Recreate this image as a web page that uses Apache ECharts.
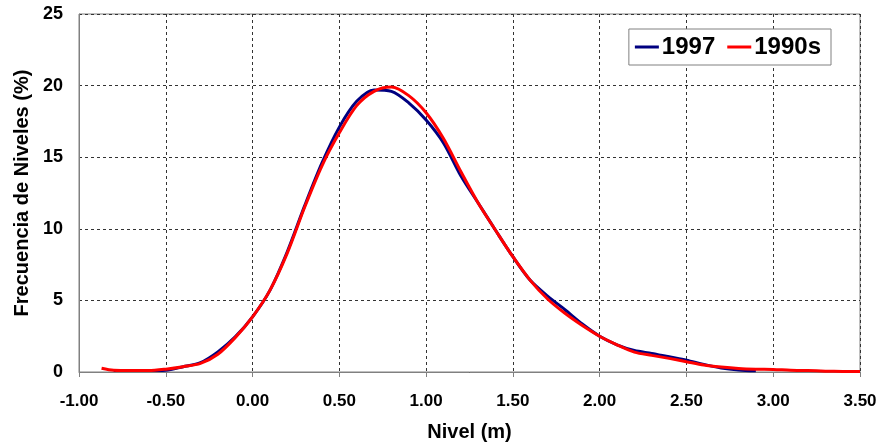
<!DOCTYPE html>
<html>
<head>
<meta charset="utf-8">
<script src="https://cdn.jsdelivr.net/npm/echarts@6/dist/echarts.min.js"></script>
<style>
  html, body { margin: 0; padding: 0; background: #fff; }
  #main { width: 882px; height: 447px; }
</style>
</head>
<body>
<div id="main"></div>
<script>
// niveles (m) y frecuencias (%)
const niveles = [-0.87, -0.8, -0.7, -0.6, -0.5, -0.4, -0.3, -0.2, -0.1, 0.0,
  0.1, 0.2, 0.3, 0.4, 0.5, 0.6, 0.7, 0.8, 0.9, 1.0,
  1.1, 1.2, 1.3, 1.4, 1.5, 1.6, 1.7, 1.8, 1.9, 2.0,
  2.1, 2.2, 2.3, 2.4, 2.5, 2.6, 2.7, 2.8, 2.9, 3.0,
  3.1, 3.2, 3.3, 3.4, 3.5];
const frec1997 = [null, 0.1, 0.1, 0.1, 0.12, 0.37, 0.65, 1.4, 2.45, 3.85,
  5.7, 8.4, 11.6, 14.6, 17.1, 18.9, 19.7, 19.6, 18.8, 17.6,
  16.0, 13.7, 11.8, 9.9, 8.05, 6.4, 5.3, 4.35, 3.35, 2.5,
  1.9, 1.5, 1.3, 1.06, 0.83, 0.53, 0.28, 0.14, 0.08, null,
  null, null, null, null, null];
const frec1990s = [0.26, 0.12, 0.1, 0.1, 0.2, 0.37, 0.6, 1.24, 2.4, 3.85,
  5.7, 8.3, 11.5, 14.4, 16.7, 18.6, 19.6, 19.9, 19.3, 18.1,
  16.3, 14.0, 11.8, 9.9, 8.05, 6.4, 5.1, 4.1, 3.25, 2.5,
  1.9, 1.39, 1.16, 0.95, 0.72, 0.49, 0.35, 0.25, 0.2, 0.18,
  0.12, 0.1, 0.06, 0.04, 0.03];
const ticksX = [-1.0, 3.5, 0.5];
const ticksY = [0, 25, 5];

const pares = (ys) => niveles.map((x, i) => [x, ys[i]]);

const chart = echarts.init(document.getElementById('main'));
const fuente = 'Liberation Sans, Arial, sans-serif';
const rejilla = { show: true, lineStyle: { color: '#333', type: [3, 3], width: 1 } };

const option = {
  animation: false,
  textStyle: { fontFamily: fuente },
  grid: {
    left: 79, right: 22, top: 14, bottom: 74,
    show: true, borderColor: '#808080', borderWidth: 1
  },
  legend: {
    right: 51, top: 29,
    backgroundColor: '#fff',
    borderColor: '#808080', borderWidth: 1,
    padding: [6, 10, 6, 6],
    itemGap: 12,
    itemWidth: 24, itemHeight: 3,
    icon: 'rect',
    textStyle: { fontSize: 24, fontWeight: 'bold', color: '#000', fontFamily: fuente, padding: [0, 0, 0, -2] },
    data: ['1997', '1990s']
  },
  xAxis: {
    type: 'value',
    min: ticksX[0], max: ticksX[1], interval: ticksX[2],
    name: 'Nivel (m)',
    nameLocation: 'middle',
    nameGap: 50,
    nameTextStyle: { fontSize: 20, fontWeight: 'bold', color: '#000', fontFamily: fuente },
    axisLine: { onZero: false, lineStyle: { color: '#808080', width: 1 } },
    axisTick: { show: true, inside: false, length: 5, lineStyle: { color: '#808080' } },
    axisLabel: {
      fontSize: 17, fontWeight: 'bold', color: '#000', margin: 21,
      formatter: (v) => v.toFixed(2)
    },
    splitLine: rejilla
  },
  yAxis: {
    type: 'value',
    min: ticksY[0], max: ticksY[1], interval: ticksY[2],
    name: 'Frecuencia de Niveles (%)',
    nameLocation: 'middle',
    nameGap: 44,
    nameTextStyle: { fontSize: 20, fontWeight: 'bold', color: '#000', fontFamily: fuente },
    axisLine: { show: true, onZero: false, lineStyle: { color: '#808080', width: 1 } },
    axisTick: { show: false },
    axisLabel: { fontSize: 18, fontWeight: 'bold', color: '#000', margin: 16 },
    splitLine: rejilla
  },
  series: [
    {
      name: '1997',
      type: 'line',
      data: pares(frec1997),
      smooth: 0.3,
      showSymbol: false,
      connectNulls: false,
      lineStyle: { color: '#000080', width: 3 },
      itemStyle: { color: '#000080' }
    },
    {
      name: '1990s',
      type: 'line',
      data: pares(frec1990s),
      smooth: 0.3,
      showSymbol: false,
      lineStyle: { color: '#ff0000', width: 3 },
      itemStyle: { color: '#ff0000' }
    }
  ]
};
chart.setOption(option);
</script>
</body>
</html>
